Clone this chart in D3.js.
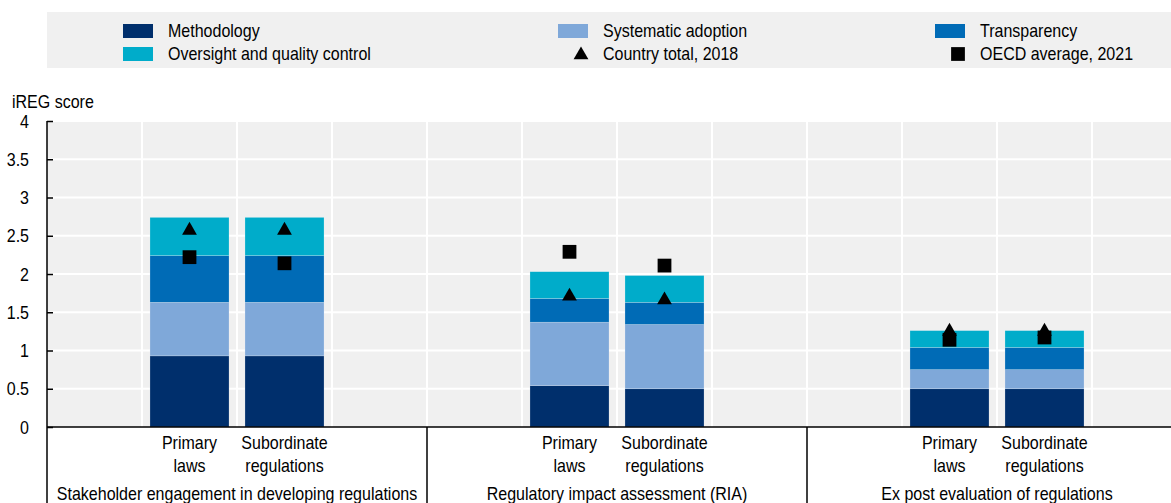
<!DOCTYPE html>
<html>
<head>
<meta charset="utf-8">
<script src="https://cdn.jsdelivr.net/npm/d3@7"></script>
<style>
  body { margin: 0; background: #fff; }
  svg { display: block; font-family: "Liberation Sans Narrow", "Arial Narrow", "Liberation Sans", Arial, sans-serif; }
</style>
</head>
<body>
<div id="main"></div>
<script>
const w = 1171, h = 503
const groups = ['Stakeholder engagement in developing regulations', 'Regulatory impact assessment (RIA)', 'Ex post evaluation of regulations']
const subcats = ['Primary laws', 'Subordinate regulations']
const subLabels = [['Primary', 'laws'], ['Subordinate', 'regulations']]

// one value per bar: group 1 (primary, subordinate), group 2, group 3
const methodology = [0.93, 0.93, 0.54, 0.50, 0.50, 0.50]
const systematic = [0.70, 0.70, 0.83, 0.84, 0.25, 0.25]
const transparency = [0.61, 0.61, 0.31, 0.29, 0.29, 0.29]
const oversight = [0.50, 0.50, 0.35, 0.35, 0.22, 0.22]
const country2018 = [2.57, 2.57, 1.71, 1.66, 1.25, 1.25]
const oecd2021 = [2.22, 2.14, 2.29, 2.11, 1.14, 1.17]
const yTicks = [0, 0.5, 1, 1.5, 2, 2.5, 3, 3.5, 4]

const series = [
    { name: 'Methodology', values: methodology, color: '#002f6c' },
    { name: 'Systematic adoption', values: systematic, color: '#7fa8d9' },
    { name: 'Transparency', values: transparency, color: '#006bb6' },
    { name: 'Oversight and quality control', values: oversight, color: '#00acca' }
]

const rows = []
groups.forEach((g, gi) => subcats.forEach((s, si) => {
    const i = gi * 2 + si
    const row = { group: g, sub: s, i: i }
    series.forEach(se => row[se.name] = se.values[i])
    rows.push(row)
}))

const plotLeft = 47, plotTop = 121, plotBottom = 427
const narrow = 0.915 // no narrow font installed, squeeze Liberation Sans instead
const svg = d3.select('#main').append('svg').attr('width', w).attr('height', h)

// text helper: condensed look via horizontal scale
function label(parent, x, y, txt, anchor) {
    return parent.append('text')
        .attr('transform', `translate(${x},${y}) scale(${narrow},1)`)
        .attr('text-anchor', anchor || 'start')
        .attr('dominant-baseline', 'central')
        .style('font-size', '17.5px')
        .text(txt)
}

const x0 = d3.scaleBand().domain(groups).range([plotLeft, plotLeft + 1140])
const x1 = d3.scaleBand().domain(subcats).range([0, x0.bandwidth()])
            .paddingInner(0.168).paddingOuter(1.084)
const slot = x0.bandwidth() / 4
const y = d3.scaleLinear().domain([0, 4]).range([plotBottom, plotTop])

// legend box
svg.append('rect').attr('x', 47).attr('y', 12).attr('width', w - 47).attr('height', 56).attr('fill', '#f0f0f0')
const legendItems = [
    { name: 'Methodology', type: 'rect', color: '#002f6c', x: 123, y: 31 },
    { name: 'Systematic adoption', type: 'rect', color: '#7fa8d9', x: 558, y: 31 },
    { name: 'Transparency', type: 'rect', color: '#006bb6', x: 935, y: 31 },
    { name: 'Oversight and quality control', type: 'rect', color: '#00acca', x: 123, y: 54 },
    { name: 'Country total, 2018', type: 'tri', x: 558, y: 54 },
    { name: 'OECD average, 2021', type: 'sq', x: 935, y: 54 }
]
const lg = svg.append('g').attr('id', 'legend')
legendItems.forEach(d => {
    if (d.type == 'rect') {
        lg.append('rect').attr('x', d.x).attr('y', d.y - 7).attr('width', 30).attr('height', 14).attr('fill', d.color)
    } else {
        lg.append('path')
            .attr('d', d3.symbol().type(d.type == 'tri' ? d3.symbolTriangle : d3.symbolSquare).size(d.type == 'tri' ? 95 : 190)())
            .attr('transform', `translate(${d.x + 23},${d.y + (d.type == 'tri' ? 1 : 0)})`)
            .attr('fill', '#000')
    }
    label(lg, d.x + 45, d.y, d.name)
})

// plot background + grid
svg.append('rect').attr('x', plotLeft).attr('y', plotTop).attr('width', w - plotLeft).attr('height', plotBottom - plotTop).attr('fill', '#f0f0f0')
svg.append('g').selectAll('line').data(yTicks.slice(1)).enter().append('line')
    .attr('x1', plotLeft).attr('x2', w).attr('y1', d => y(d)).attr('y2', d => y(d))
    .attr('stroke', '#fff').attr('stroke-width', 2)
const vgrid = []
groups.forEach(g => { for (let k = 0; k < 4; k++) vgrid.push(x0(g) + k * slot) })
svg.append('g').selectAll('line').data(vgrid.slice(1)).enter().append('line')
    .attr('x1', d => d).attr('x2', d => d).attr('y1', plotTop).attr('y2', plotBottom)
    .attr('stroke', '#fff').attr('stroke-width', 2)

// stacked bars
const stack = d3.stack().keys(series.map(s => s.name))(rows)
svg.append('g').selectAll('g').data(stack).enter().append('g')
    .attr('fill', (d, i) => series[i].color)
    .selectAll('rect').data(d => d).enter().append('rect')
    .attr('x', d => x0(d.data.group) + x1(d.data.sub))
    .attr('width', x1.bandwidth())
    .attr('y', d => y(d[1]))
    .attr('height', d => y(d[0]) - y(d[1]))
    .attr('stroke', 'rgba(255,255,255,0.35)').attr('stroke-width', 0.6)

const cx = d => x0(d.group) + x1(d.sub) + x1.bandwidth() / 2
svg.append('g').selectAll('path').data(rows).enter().append('path')
    .attr('d', d3.symbol().type(d3.symbolSquare).size(190)())
    .attr('transform', d => `translate(${cx(d)},${y(oecd2021[d.i])})`)
    .attr('fill', '#000')
svg.append('g').selectAll('path').data(rows).enter().append('path')
    .attr('d', d3.symbol().type(d3.symbolTriangle).size(95)())
    .attr('transform', d => `translate(${cx(d)},${y(country2018[d.i])})`)
    .attr('fill', '#000')

// y axis
const yAxis = d3.axisRight(y).tickValues(yTicks).tickSize(6).tickFormat(d3.format('~g'))
const ya = svg.append('g').attr('transform', `translate(${plotLeft},0)`).call(yAxis)
ya.select('.domain').remove()
ya.selectAll('.tick line').attr('stroke', '#000').attr('stroke-width', 1.5)
ya.selectAll('.tick text').attr('x', 0).attr('dy', '0.35em')
    .attr('transform', `translate(-18,0) scale(${narrow},1)`).attr('text-anchor', 'end')
    .style('font-size', '17.5px').style('font-family', 'inherit').attr('fill', '#000')
svg.append('line').attr('x1', plotLeft).attr('x2', plotLeft).attr('y1', plotTop).attr('y2', h).attr('stroke', '#000').attr('stroke-width', 1.5)

label(svg, 12, 102, 'iREG score')

// x axis
svg.append('line').attr('x1', plotLeft).attr('x2', w).attr('y1', plotBottom).attr('y2', plotBottom).attr('stroke', '#000').attr('stroke-width', 1.5)
svg.append('g').selectAll('line').data(groups.slice(1)).enter().append('line')
    .attr('x1', d => x0(d)).attr('x2', d => x0(d)).attr('y1', plotBottom).attr('y2', h)
    .attr('stroke', '#000').attr('stroke-width', 1.5)

const xl = svg.append('g')
rows.forEach(d => {
    const lab = subLabels[subcats.indexOf(d.sub)]
    lab.forEach((t, li) => label(xl, cx(d), 443 + li * 23, t, 'middle'))
})
groups.forEach(g => label(xl, x0(g) + x0.bandwidth() / 2, 494, g, 'middle'))
</script>
</body>
</html>
